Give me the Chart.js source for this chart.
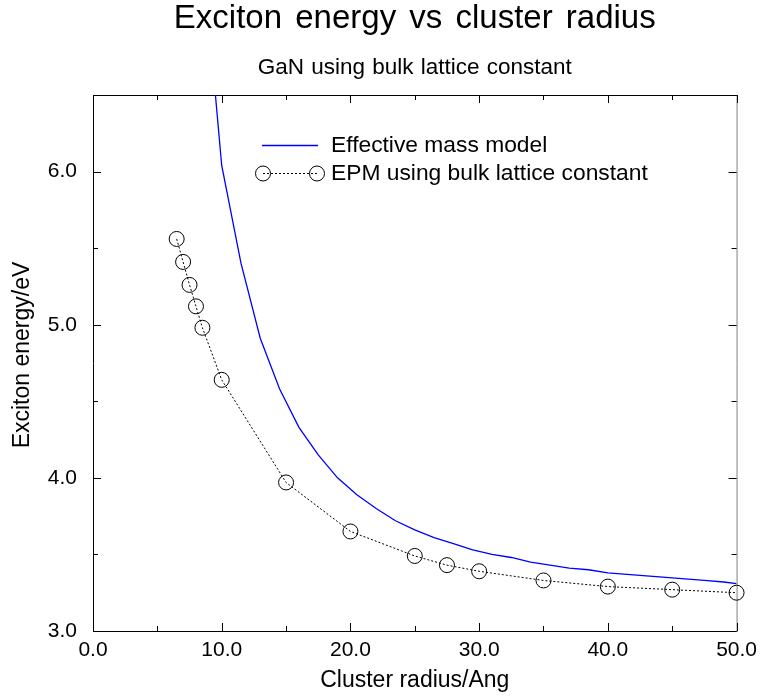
<!DOCTYPE html>
<html>
<head>
<meta charset="utf-8">
<title>Exciton energy vs cluster radius</title>
<script src="https://cdn.jsdelivr.net/npm/chart.js@4.4.1/dist/chart.umd.min.js"></script>
<style>
  html, body { margin: 0; padding: 0; background: #fff; }
  #wrap { width: 764px; height: 699px; }
</style>
</head>
<body>
<div id="wrap"><canvas id="exciton-chart" width="764" height="699"></canvas></div>
<script>
// Effective mass model (blue curve)
const massRadius = [8.5, 10, 11.5, 13, 14.5, 16, 17.5, 19, 20.5, 22, 23.5, 25, 26.5, 28, 29.5,
  31, 32.5, 34, 35.5, 37, 38.5, 40, 41.5, 43, 44.5, 46, 47.5, 49, 50]
const massEnergy = [7.45, 6.04, 5.40, 4.91, 4.58, 4.33, 4.15, 4.00, 3.89, 3.80, 3.72, 3.66, 3.61, 3.57, 3.53,
  3.50, 3.48, 3.45, 3.43, 3.41, 3.40, 3.38, 3.37, 3.36, 3.35, 3.34, 3.33, 3.32, 3.31]

// EPM using bulk lattice constant (circles)
const epmRadius = [6.5, 7, 7.5, 8, 8.5, 10, 15, 20, 25, 27.5, 30, 35, 40, 45, 50]
const epmEnergy = [5.56, 5.41, 5.26, 5.12, 4.98, 4.64, 3.97, 3.65, 3.49, 3.43, 3.39, 3.33, 3.29, 3.27, 3.25]

// labelled ticks
const xTickLabels = [0, 10, 20, 30, 40, 50]
const yTickLabels = [3, 4, 5, 6]

const FONT = "'Liberation Sans', Arial, sans-serif"
const BLUE = '#0000ff'

const toPoints = (xs, ys) => xs.map((x, i) => ({ x, y: ys[i] }))

// frame on top/right + inward tick marks on all four sides
const frameTicks = {
  id: 'frameTicks',
  beforeDatasetsDraw(chart) {
    const { ctx, chartArea: a } = chart
    ctx.save()
    ctx.lineWidth = 1
    ctx.strokeStyle = '#000'
    ctx.beginPath()
    ctx.moveTo(a.left, a.top + 0.5)
    ctx.lineTo(a.right + 1, a.top + 0.5)
    ctx.stroke()
    ctx.strokeStyle = '#808080'
    ctx.beginPath()
    ctx.moveTo(a.right + 0.5, a.top)
    ctx.lineTo(a.right + 0.5, a.bottom + 1)
    ctx.stroke()

    const { x, y } = chart.scales
    ctx.strokeStyle = '#000'
    ctx.beginPath()
    x.ticks.forEach(t => {
      const px = Math.round(x.getPixelForValue(t.value)) + 0.5
      const len = xTickLabels.includes(t.value) ? 8 : 5
      ctx.moveTo(px, a.bottom)
      ctx.lineTo(px, a.bottom - len)
      ctx.moveTo(px, a.top)
      ctx.lineTo(px, a.top + len)
    })
    y.ticks.forEach(t => {
      const py = Math.round(y.getPixelForValue(t.value)) + 0.5
      const len = yTickLabels.includes(t.value) ? 8 : 5
      ctx.moveTo(a.left, py)
      ctx.lineTo(a.left + len, py)
      ctx.moveTo(a.right, py)
      ctx.lineTo(a.right - len, py)
    })
    ctx.stroke()
    ctx.restore()
  }
}

// titles, y axis title and the in-plot legend
const headerLegend = {
  id: 'headerLegend',
  afterDraw(chart) {
    const { ctx, chartArea: a } = chart
    const cx = (a.left + a.right) / 2
    ctx.save()
    ctx.fillStyle = '#000'
    ctx.textAlign = 'center'
    ctx.textBaseline = 'middle'
    ctx.font = '33px ' + FONT
    if ('wordSpacing' in ctx) ctx.wordSpacing = '4px'
    ctx.fillText('Exciton energy vs cluster radius', cx, 19)
    ctx.font = '22.5px ' + FONT
    if ('wordSpacing' in ctx) ctx.wordSpacing = '1px'
    ctx.fillText('GaN using bulk lattice constant', cx, 68)
    if ('wordSpacing' in ctx) ctx.wordSpacing = '0px'

    // y axis title, sits a little above the middle of the axis
    ctx.save()
    ctx.translate(23, (a.top + a.bottom) / 2 - 8)
    ctx.rotate(-Math.PI / 2)
    ctx.font = '23px ' + FONT
    ctx.fillText('Exciton energy/eV', 0, 0)
    ctx.restore()

    // legend
    const [mass, epm] = chart.data.datasets
    const x0 = a.left + 170
    const x1 = a.left + 224
    const y0 = a.top + 50
    const y1 = a.top + 78

    ctx.lineWidth = mass.borderWidth
    ctx.strokeStyle = mass.borderColor
    ctx.beginPath()
    ctx.moveTo(x0 - 1, y0 + 0.5)
    ctx.lineTo(x1 + 1, y0 + 0.5)
    ctx.stroke()

    ctx.lineWidth = epm.borderWidth
    ctx.strokeStyle = epm.borderColor
    ctx.setLineDash(epm.borderDash)
    ctx.beginPath()
    ctx.moveTo(x0, y1 + 0.5)
    ctx.lineTo(x1, y1 + 0.5)
    ctx.stroke()
    ctx.setLineDash([])
    ctx.strokeStyle = epm.pointBorderColor
    ctx.lineWidth = epm.pointBorderWidth
    ;[x0, x1].forEach(px => {
      ctx.beginPath()
      ctx.arc(px, y1 + 0.5, epm.pointRadius, 0, Math.PI * 2)
      ctx.stroke()
    })

    ctx.textAlign = 'left'
    ctx.font = '22.8px ' + FONT
    ctx.fillText(mass.label, x1 + 14, y0 + 1)
    ctx.fillText(epm.label, x1 + 14, y1 + 1)
    ctx.restore()
  }
}

new Chart(document.getElementById('exciton-chart'), {
  type: 'line',
  data: {
    datasets: [
      {
        label: 'Effective mass model',
        data: toPoints(massRadius, massEnergy),
        borderColor: BLUE,
        borderWidth: 1.3,
        pointRadius: 0,
        tension: 0,
        fill: false
      },
      {
        label: 'EPM using bulk lattice constant',
        data: toPoints(epmRadius, epmEnergy),
        borderColor: '#000',
        borderWidth: 1,
        borderDash: [2, 2],
        pointRadius: 7.5,
        pointBorderColor: '#000',
        pointBackgroundColor: 'rgba(0,0,0,0)',
        pointBorderWidth: 1,
        tension: 0,
        fill: false,
        clip: false
      }
    ]
  },
  options: {
    responsive: false,
    animation: false,
    devicePixelRatio: 1,
    layout: { padding: { top: 95, right: 26, left: 0, bottom: 0 } },
    plugins: {
      legend: { display: false },
      title: { display: false },
      tooltip: { enabled: false }
    },
    scales: {
      x: {
        type: 'linear',
        min: 0,
        max: 50,
        afterFit: (s) => { s.height = 68 },
        grid: { display: false, drawTicks: false },
        border: { display: true, color: '#000', width: 1 },
        ticks: {
          stepSize: 5,
          autoSkip: false,
          maxRotation: 0,
          padding: 7,
          color: '#000',
          font: { family: FONT, size: 21 },
          callback: (v) => xTickLabels.includes(v) ? v.toFixed(1) : ''
        },
        title: {
          display: true,
          text: 'Cluster radius/Ang',
          color: '#000',
          font: { family: FONT, size: 23 },
          padding: { top: 0, bottom: 5 }
        }
      },
      y: {
        type: 'linear',
        min: 3,
        max: 6.5,
        afterFit: (s) => { s.width = 93 },
        grid: { display: false, drawTicks: false },
        border: { display: true, color: '#000', width: 1 },
        ticks: {
          stepSize: 0.5,
          autoSkip: false,
          padding: 16,
          color: '#000',
          font: { family: FONT, size: 21 },
          callback: (v) => yTickLabels.includes(v) ? v.toFixed(1) : ''
        },
        title: { display: false }
      }
    }
  },
  plugins: [frameTicks, headerLegend]
})
</script>
</body>
</html>
